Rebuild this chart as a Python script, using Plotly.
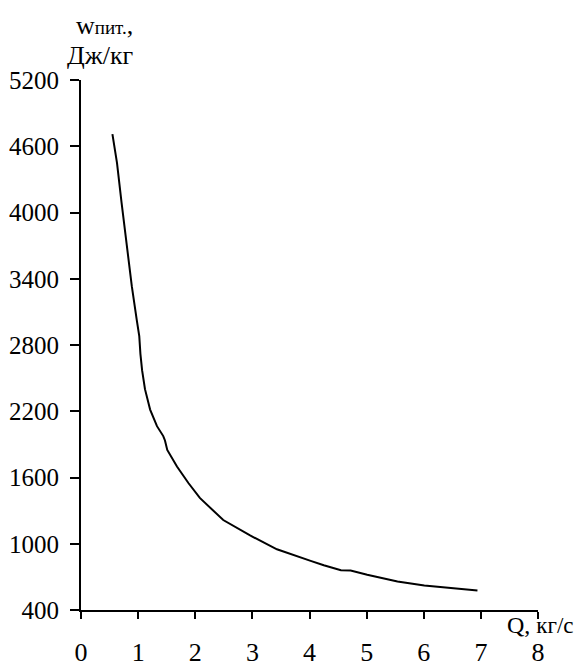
import plotly.graph_objects as go

# Data
q_values = [0.55, 0.63, 0.71, 0.80, 0.89, 0.975, 1.02, 1.04, 1.07, 1.12, 1.21, 1.33, 1.44, 1.47, 1.51,
            1.68, 1.88, 2.08, 2.49, 2.96, 3.43, 4.02, 4.25, 4.55, 4.72, 5.01, 5.19, 5.54, 6.01, 6.48, 6.94]
w_values = [4710, 4450, 4090, 3700, 3330, 3030, 2880, 2720, 2570, 2400, 2215, 2065, 1975, 1935, 1850,
            1700, 1550, 1415, 1215, 1075, 950, 845, 805, 760, 758, 720, 697, 658, 622, 598, 577]

x_ticks = [0, 1, 2, 3, 4, 5, 6, 7, 8]
y_ticks = [400, 1000, 1600, 2200, 2800, 3400, 4000, 4600, 5200]

FONT = "Liberation Serif"

fig = go.Figure()
fig.add_trace(go.Scatter(x=q_values, y=w_values, mode="lines",
                         line=dict(color="black", width=2), showlegend=False,
                         hoverinfo="skip"))

fig.update_layout(
    width=585, height=666,
    margin=dict(l=73, r=55, t=72, b=64),
    paper_bgcolor="white", plot_bgcolor="white",
    font=dict(family=FONT, color="black", size=26),
    xaxis=dict(range=[0, 8], tickvals=x_ticks, ticktext=[str(v) for v in x_ticks],
               automargin=False,
               showgrid=False, zeroline=False, showline=True, linecolor="black", linewidth=2,
               ticks="outside", ticklen=7, tickwidth=2, tickcolor="black",
               tickfont=dict(family=FONT, size=26, color="black"), ticklabelstandoff=11),
    yaxis=dict(range=[400, 5200], tickvals=y_ticks, ticktext=[str(v) for v in y_ticks],
               automargin=False,
               showgrid=False, zeroline=False, showline=True, linecolor="black", linewidth=2,
               ticks="outside", ticklen=9, tickwidth=2, tickcolor="black",
               tickfont=dict(family=FONT, size=25, color="black"), ticklabelstandoff=6),
    annotations=[
        dict(text="w<span style='font-size:19px'>пит.</span>,", xref="paper", yref="paper",
             x=0.0525, y=1.103, showarrow=False, font=dict(family=FONT, size=26, color="black"),
             xanchor="center", yanchor="middle"),
        dict(text="Дж/кг", xref="paper", yref="paper",
             x=0.042, y=1.047, showarrow=False, font=dict(family=FONT, size=26, color="black"),
             xanchor="center", yanchor="middle"),
        dict(text="Q, <span style='font-size:23px'>кг/с</span>", xref="paper", yref="paper",
             x=1.005, y=-0.028, showarrow=False, font=dict(family=FONT, size=24, color="black"),
             xanchor="center", yanchor="middle"),
    ],
)

fig.write_html("out.html")
